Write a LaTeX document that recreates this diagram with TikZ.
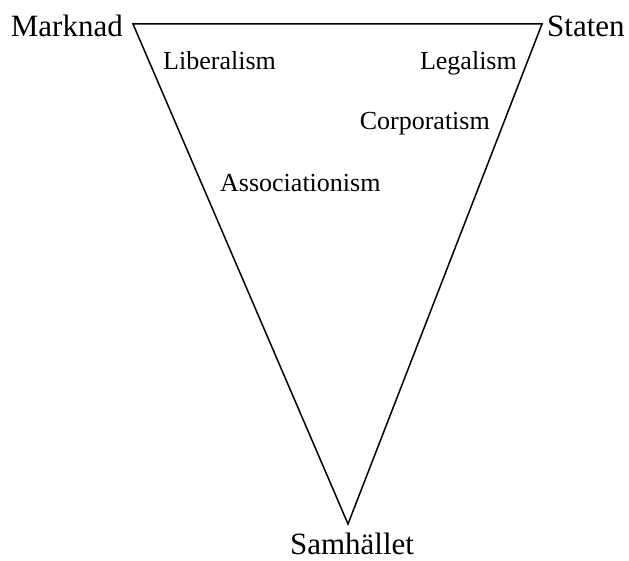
\documentclass[tikz,border=0pt]{standalone}
\usepackage{fontspec}
\setmainfont{Liberation Serif}
\usetikzlibrary{calc}

\tikzset{
  hoved/.style={inner sep=0pt, font=\fontsize{31}{31}\selectfont},
  ism/.style={inner sep=0pt, font=\fontsize{26}{26}\selectfont}
}

\begin{document}
\begin{tikzpicture}[x=1pt,y=1pt]
    \useasboundingbox (0,0) rectangle (629,561);
    \coordinate (M) at (133,537);
    \coordinate (S) at (542,537);
    \coordinate (H) at (348,37);
    \draw[line width=1.5pt, line join=miter] (M) -- (S) -- (H) -- cycle;
    \node[hoved, anchor=base east] (marknad) at (123,524) {Marknad};
    \node[hoved, anchor=base west] (staten) at (547,524) {Staten};
    \node[hoved, anchor=base] (samh) at (352,6) {Samhället};
    \node[ism, anchor=base west] (lib) at (163,491) {Liberalism};
    \node[ism, anchor=base east] (leg) at (517,491) {Legalism};
    \node[ism, anchor=base east] (corp) at (490,431) {Corporatism};
    \node[ism, anchor=base west] (ass) at (220,369) {Associationism};
\end{tikzpicture}
\end{document}
